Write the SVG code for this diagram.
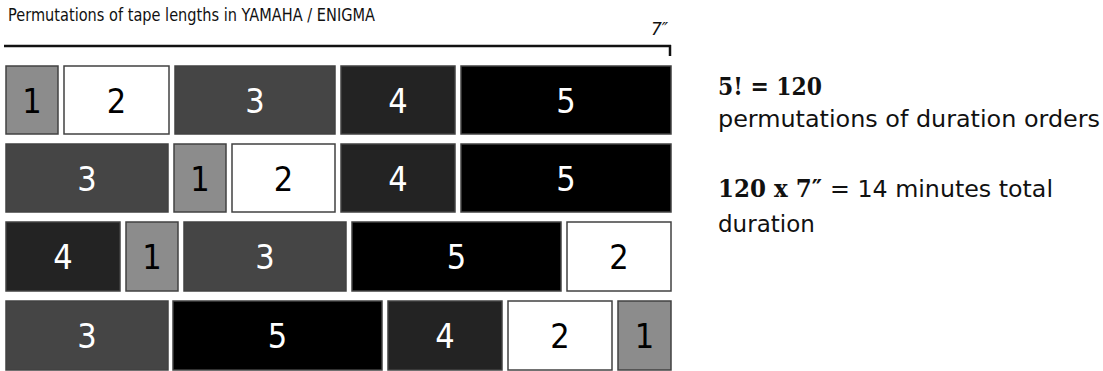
<svg xmlns="http://www.w3.org/2000/svg" width="1103" height="371" viewBox="0 0 1103 371">
<style>
.b{stroke:#424242;stroke-width:1.5}
.d1{fill:#8c8c8c}.d2{fill:#ffffff}.d3{fill:#454545}.d4{fill:#232323}.d5{fill:#000000}
.n{font-family:"DejaVu Sans Condensed","Liberation Sans Narrow",sans-serif;font-size:34px;text-anchor:middle}
.w{fill:#ffffff}.k{fill:#000000}
.t{font-family:"DejaVu Sans","Liberation Sans",sans-serif;fill:#111}
.bs{font-family:"DejaVu Serif","Liberation Serif",serif;font-weight:bold;fill:#111}
</style>
<rect width="1103" height="371" fill="#ffffff"/>
<text class="t" x="8" y="21" font-size="17" textLength="367" lengthAdjust="spacingAndGlyphs">Permutations of tape lengths in YAMAHA / ENIGMA</text>
<text class="t" x="651" y="35" font-size="17" font-style="italic">7″</text>
<g id="scale">
<line x1="4" y1="46" x2="671" y2="46" stroke="#111" stroke-width="2.5"/>
<line x1="670" y1="45" x2="670" y2="56" stroke="#111" stroke-width="2.5"/>
</g>
<g id="row1">
<g id="r1b1"><rect class="b d1" x="6" y="66" width="52" height="68"/><text class="n k" x="32" y="112.5">1</text></g>
<g id="r1b2"><rect class="b d2" x="64" y="66" width="105" height="68"/><text class="n k" x="116.5" y="112.5">2</text></g>
<g id="r1b3"><rect class="b d3" x="175" y="66" width="160" height="68"/><text class="n w" x="255" y="112.5">3</text></g>
<g id="r1b4"><rect class="b d4" x="341" y="66" width="114" height="68"/><text class="n w" x="398" y="112.5">4</text></g>
<g id="r1b5"><rect class="b d5" x="461" y="66" width="210" height="68"/><text class="n w" x="566" y="112.5">5</text></g>
</g>
<g id="row2">
<g id="r2b3"><rect class="b d3" x="6" y="144" width="162" height="68"/><text class="n w" x="87" y="190.5">3</text></g>
<g id="r2b1"><rect class="b d1" x="174" y="144" width="52" height="68"/><text class="n k" x="200" y="190.5">1</text></g>
<g id="r2b2"><rect class="b d2" x="232" y="144" width="103" height="68"/><text class="n k" x="283.5" y="190.5">2</text></g>
<g id="r2b4"><rect class="b d4" x="341" y="144" width="114" height="68"/><text class="n w" x="398" y="190.5">4</text></g>
<g id="r2b5"><rect class="b d5" x="461" y="144" width="210" height="68"/><text class="n w" x="566" y="190.5">5</text></g>
</g>
<g id="row3">
<g id="r3b4"><rect class="b d4" x="6" y="222" width="114" height="69"/><text class="n w" x="63" y="269">4</text></g>
<g id="r3b1"><rect class="b d1" x="126" y="222" width="52" height="69"/><text class="n k" x="152" y="269">1</text></g>
<g id="r3b3"><rect class="b d3" x="184" y="222" width="162" height="69"/><text class="n w" x="265" y="269">3</text></g>
<g id="r3b5"><rect class="b d5" x="352" y="222" width="209" height="69"/><text class="n w" x="456.5" y="269">5</text></g>
<g id="r3b2"><rect class="b d2" x="567" y="222" width="104" height="69"/><text class="n k" x="619" y="269">2</text></g>
</g>
<g id="row4">
<g id="r4b3"><rect class="b d3" x="6" y="301" width="162" height="69"/><text class="n w" x="87" y="347.5">3</text></g>
<g id="r4b5"><rect class="b d5" x="173" y="301" width="209" height="69"/><text class="n w" x="277.5" y="347.5">5</text></g>
<g id="r4b4"><rect class="b d4" x="388" y="301" width="114" height="69"/><text class="n w" x="445" y="347.5">4</text></g>
<g id="r4b2"><rect class="b d2" x="508" y="301" width="104" height="69"/><text class="n k" x="560" y="347.5">2</text></g>
<g id="r4b1"><rect class="b d1" x="618" y="301" width="53" height="69"/><text class="n k" x="644.5" y="347.5">1</text></g>
</g>
<g id="notes">
<text class="bs" x="718" y="95" font-size="25" textLength="104" lengthAdjust="spacingAndGlyphs">5! = 120</text>
<text class="t" x="718" y="127" font-size="23" textLength="382" lengthAdjust="spacingAndGlyphs">permutations of duration orders</text>
<text class="bs" x="718" y="197" font-size="25" textLength="104" lengthAdjust="spacingAndGlyphs">120 x 7″</text>
<text class="t" x="830" y="197" font-size="23" textLength="223" lengthAdjust="spacingAndGlyphs">= 14 minutes total</text>
<text class="t" x="718" y="232" font-size="23">duration</text>
</g>
</svg>
